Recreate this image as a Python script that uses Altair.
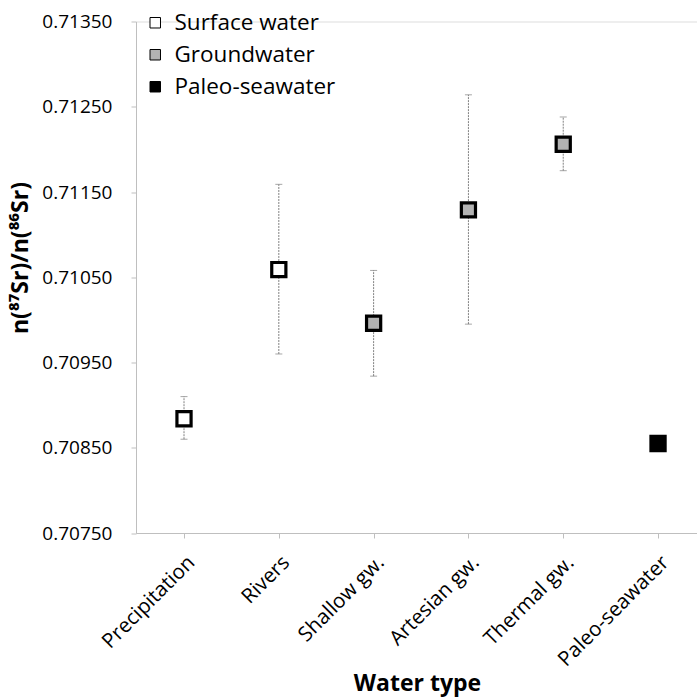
import altair as alt
import pandas as pd

categories = ["Precipitation", "Rivers", "Shallow gw.", "Artesian gw.", "Thermal gw.", "Paleo-seawater"]
groups = ["Surface water", "Surface water", "Groundwater", "Groundwater", "Groundwater", "Paleo-seawater"]
values = [0.70884, 0.71059, 0.70996, 0.71129, 0.71206, 0.70855]
err_low = [0.70860, 0.70960, 0.70934, 0.70995, 0.71175, None]
err_high = [0.70910, 0.71159, 0.71058, 0.71264, 0.71238, None]
y_ticks = [0.7075, 0.7085, 0.7095, 0.7105, 0.7115, 0.7125, 0.7135]

legend_groups = ["Surface water", "Groundwater", "Paleo-seawater"]
legend_fills = ["#ffffff", "#b3b3b3", "#000000"]

df = pd.DataFrame({"cat": categories, "group": groups, "value": values,
                   "lo": err_low, "hi": err_high})
df_err = df.dropna(subset=["lo", "hi"])

FONT = "Open Sans"

x_enc = alt.X("cat:N", sort=categories,
              scale=alt.Scale(type="point", padding=0.4587, align=0.552),
              axis=alt.Axis(title="Water type", labelAngle=-45, labelFontSize=20.5,
                            labelColor="#000000", labelFont=FONT, labelPadding=14,
                            titleFontSize=23, titleFont=FONT, titleFontWeight="bold",
                            titleColor="#000000", titleX=281, titleY=150,
                            titleAlign="center", titleBaseline="middle",
                            domainColor="#bfbfbf", tickColor="#bfbfbf", tickSize=5,
                            grid=False))

y_scale = alt.Scale(domain=[0.7075, 0.7135], zero=False, nice=False)
y_axis = alt.Axis(title="n(⁸⁷Sr)/n(⁸⁶Sr)", values=y_ticks, format=".5f",
                  labelFontSize=19, labelFont=FONT, labelColor="#000000",
                  labelPadding=19, titleFontSize=23, titleFont=FONT,
                  titleFontWeight="bold", titleColor="#000000",
                  titleX=-116, titleY=236, titleAngle=270, titleAlign="center",
                  titleBaseline="middle",
                  domainColor="#bfbfbf", tickColor="#bfbfbf", tickSize=5, grid=False)

base_err = alt.Chart(df_err)
rules = base_err.mark_rule(color="#808080", strokeDash=[2, 1], strokeWidth=1).encode(
    x=x_enc,
    y=alt.Y("lo:Q", scale=y_scale, axis=y_axis),
    y2="hi:Q",
)
cap_lo = base_err.mark_tick(orient="horizontal", size=7, thickness=1, color="#808080").encode(
    x=alt.X("cat:N", sort=categories), y=alt.Y("lo:Q", scale=y_scale))
cap_hi = base_err.mark_tick(orient="horizontal", size=7, thickness=1, color="#808080").encode(
    x=alt.X("cat:N", sort=categories), y=alt.Y("hi:Q", scale=y_scale))

points = alt.Chart(df).mark_point(shape="square", filled=True, size=200,
                                  stroke="#000000", strokeWidth=3.2, opacity=1).encode(
    x=alt.X("cat:N", sort=categories),
    y=alt.Y("value:Q", scale=y_scale),
    fill=alt.Fill("group:N",
                  scale=alt.Scale(domain=legend_groups, range=legend_fills),
                  legend=alt.Legend(title=None, orient="none", legendX=8, legendY=-10,
                                    symbolType="square", symbolSize=110,
                                    symbolStrokeColor="#000000", symbolStrokeWidth=1,
                                    labelFontSize=22.5, labelFont=FONT, labelColor="#000000",
                                    labelLimit=400,
                                    rowPadding=9, labelOffset=8, symbolOpacity=1)),
)

chart = alt.layer(rules, cap_lo, cap_hi, points).properties(
    width=561, height=511.5,
    autosize=alt.AutoSizeParams(type="none"),
    padding={"left": 136, "top": 21.5, "right": 0, "bottom": 166},
).configure_view(stroke=None).configure(background="#ffffff")

chart.save("out.html", embed_options={"renderer": "svg", "actions": False})
